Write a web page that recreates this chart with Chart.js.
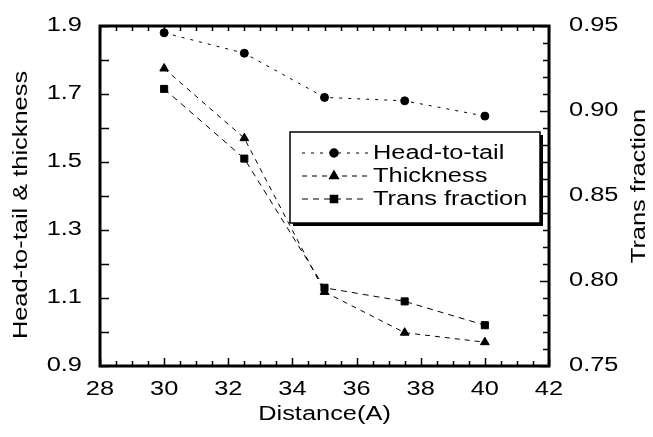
<!DOCTYPE html>
<html>
<head>
<meta charset="utf-8">
<script src="https://cdn.jsdelivr.net/npm/chart.js@4"></script>
<style>
  html, body { margin: 0; padding: 0; background: #fff; }
  #wrap { width: 653px; height: 437px; }
</style>
</head>
<body>
<div id="wrap"><canvas id="chart" width="653" height="437"></canvas></div>
<script>
// Valeurs
const distance = [30, 32.5, 35, 37.5, 40];
const headToTail = [1.88, 1.82, 1.69, 1.68, 1.635];
const thickness = [1.775, 1.57, 1.118, 0.998, 0.97];
const transFraction = [0.913, 0.872, 0.796, 0.788, 0.774];

// Graduations des axes
const xTicks = [28, 30, 32, 34, 36, 38, 40, 42];
const leftTicks = [0.9, 1.1, 1.3, 1.5, 1.7, 1.9];
const rightTicks = [0.75, 0.80, 0.85, 0.90, 0.95];

const seriesNames = ['Head-to-tail', 'Thickness', 'Trans fraction'];

const FONT = '20px "Liberation Sans", Arial, sans-serif';
const STRETCH = 1.27;  // police élargie horizontalement

function pts(ys) {
    return distance.map((d, i) => ({ x: d, y: ys[i] }));
}

// Texte élargi (rotation optionnelle)
function wideText(ctx, text, x, y, align, rot) {
    ctx.save();
    ctx.translate(x, y);
    if (rot) ctx.rotate(rot);
    ctx.scale(STRETCH, 1);
    ctx.font = FONT;
    ctx.fillStyle = '#000';
    ctx.textAlign = align;
    ctx.textBaseline = 'middle';
    ctx.fillText(text, 0, 0);
    ctx.restore();
}

function tick(ctx, x1, y1, x2, y2) {
    ctx.beginPath();
    ctx.moveTo(x1, y1);
    ctx.lineTo(x2, y2);
    ctx.stroke();
}

// Cadre, graduations, textes et légende
const framePlugin = {
    id: 'frame',
    afterDatasetsDraw(chart) {
        const ctx = chart.ctx;
        const a = chart.chartArea;
        const sx = chart.scales.x, sy = chart.scales.y, sy1 = chart.scales.y1;

        ctx.save();
        ctx.strokeStyle = '#000';
        ctx.lineWidth = 1.5;

        // axe x : bas et haut, tous les 0.5
        for (let v = 28; v <= 42.001; v += 0.5) {
            const px = Math.round(sx.getPixelForValue(v)) + 0.5;
            const len = (Math.abs(v % 2) < 0.01) ? 8 : 5;
            tick(ctx, px, a.bottom, px, a.bottom - len);
            tick(ctx, px, a.top, px, a.top + 5);
        }
        // axe gauche tous les 0.1
        for (let v = 0.9; v <= 1.901; v += 0.1) {
            const py = Math.round(sy.getPixelForValue(v)) + 0.5;
            tick(ctx, a.left, py, a.left + 9, py);
        }
        // axe droit tous les 0.01
        for (let i = 0; i <= 20; i++) {
            const v = 0.75 + i * 0.01;
            const py = Math.round(sy1.getPixelForValue(v)) + 0.5;
            tick(ctx, a.right, py, a.right - (i % 5 === 0 ? 9 : 6), py);
        }

        // cadre épais
        ctx.lineWidth = 3;
        ctx.strokeRect(a.left, a.top, a.right - a.left, a.bottom - a.top);

        // libellés des graduations
        xTicks.forEach(v => wideText(ctx, String(v), sx.getPixelForValue(v), a.bottom + 23, 'center'));
        leftTicks.forEach(v => wideText(ctx, v.toFixed(1), a.left - 18, sy.getPixelForValue(v) - 1, 'right'));
        rightTicks.forEach(v => wideText(ctx, v.toFixed(2), a.right + 20, sy1.getPixelForValue(v) - 1, 'left'));

        // titres des axes
        wideText(ctx, 'Distance(A)', (a.left + a.right) / 2, a.bottom + 48, 'center');
        wideText(ctx, 'Head-to-tail & thickness', 21, 205, 'center', -Math.PI / 2);
        wideText(ctx, 'Trans fraction', 639, 186, 'center', -Math.PI / 2);

        // légende avec ombre portée
        const lx = 290, ly = 132, lw = 250, lh = 91;
        ctx.fillStyle = '#000';
        ctx.fillRect(lx + 3, ly + 3, lw, lh);
        ctx.fillStyle = '#fff';
        ctx.fillRect(lx, ly, lw, lh);
        ctx.lineWidth = 1.5;
        ctx.strokeRect(lx, ly, lw, lh);

        chart.data.datasets.forEach((ds, i) => {
            const ry = 153 + i * 23;
            ctx.save();
            ctx.strokeStyle = '#000';
            ctx.lineWidth = 1;
            ctx.setLineDash(ds.borderDash);
            tick(ctx, 302, ry, 368, ry);
            ctx.restore();
            ctx.fillStyle = '#000';
            ctx.strokeStyle = '#000';
            Chart.helpers.drawPoint(ctx, {
                pointStyle: ds.pointStyle,
                radius: ds.pointRadius,
                borderWidth: 1,
                rotation: 0
            }, 334, ry);
            wideText(ctx, seriesNames[i], 373, ry, 'left');
        });
        ctx.restore();
    }
};

const ctx = document.getElementById('chart').getContext('2d');
const chart = new Chart(ctx, {
    type: 'line',
    data: {
        datasets: [{
            label: seriesNames[0],
            data: pts(headToTail),
            yAxisID: 'y',
            borderColor: '#000',
            backgroundColor: '#000',
            borderWidth: 1,
            borderDash: [3, 6],
            pointStyle: 'circle',
            pointRadius: 4,
            tension: 0
        }, {
            label: seriesNames[1],
            data: pts(thickness),
            yAxisID: 'y',
            borderColor: '#000',
            backgroundColor: '#000',
            borderWidth: 1,
            borderDash: [5, 5],
            pointStyle: 'triangle',
            pointRadius: 5,
            tension: 0
        }, {
            label: seriesNames[2],
            data: pts(transFraction),
            yAxisID: 'y1',
            borderColor: '#000',
            backgroundColor: '#000',
            borderWidth: 1,
            borderDash: [6, 5],
            pointStyle: 'rect',
            pointRadius: 5,
            tension: 0
        }]
    },
    options: {
        responsive: false,
        animation: false,
        layout: { padding: { top: 26, left: 0, right: 0, bottom: 0 } },
        plugins: {
            legend: { display: false },
            tooltip: { enabled: false }
        },
        scales: {
            x: {
                type: 'linear',
                min: 28, max: 42,
                ticks: { display: false },
                grid: { display: false },
                border: { display: false },
                afterFit: s => { s.height = 71; }
            },
            y: {
                position: 'left',
                min: 0.9, max: 1.9,
                ticks: { display: false },
                grid: { display: false },
                border: { display: false },
                afterFit: s => { s.width = 100; }
            },
            y1: {
                position: 'right',
                min: 0.75, max: 0.95,
                ticks: { display: false },
                grid: { display: false },
                border: { display: false },
                afterFit: s => { s.width = 104; }
            }
        }
    },
    plugins: [framePlugin]
});
</script>
</body>
</html>
